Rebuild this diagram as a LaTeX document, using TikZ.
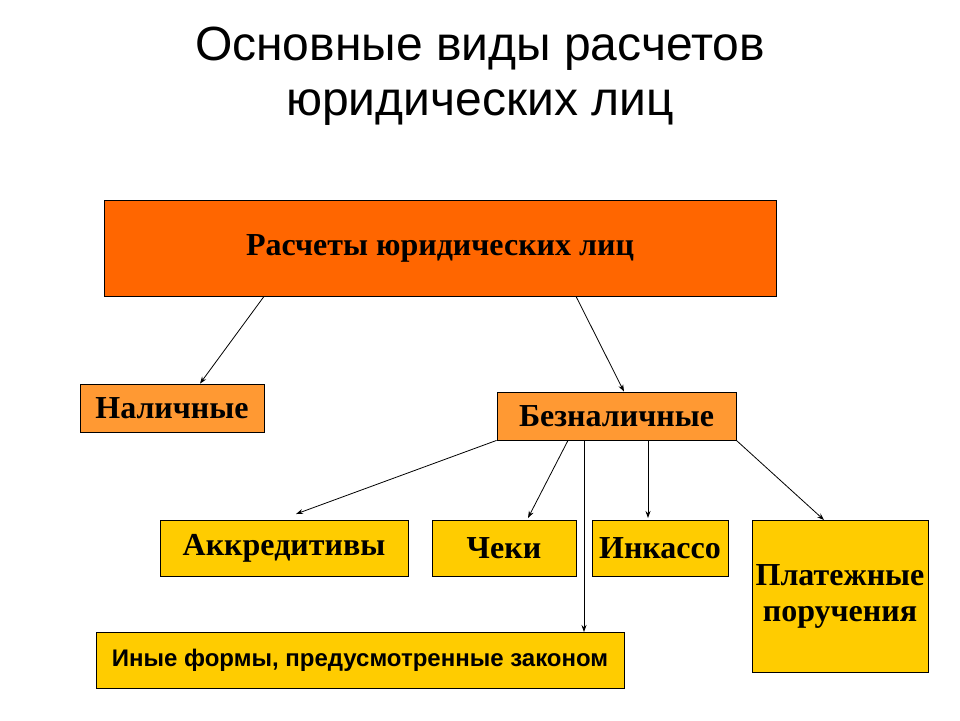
\documentclass[tikz,border=0pt]{standalone}
\usepackage{fontspec}
\setmainfont{Liberation Serif}
\setsansfont{Liberation Sans}
\usetikzlibrary{arrows.meta}
\definecolor{top}{HTML}{FF6600}
\definecolor{mid}{HTML}{FF9933}
\definecolor{low}{HTML}{FFCC00}
\begin{document}
\begin{tikzpicture}[x=1pt,y=-1pt,
  box/.style={draw=black,line width=0.8pt,font=\fontsize{32}{36}\selectfont\bfseries,align=center,inner sep=0pt},
  arr/.style={-{Stealth[length=7pt,width=5pt]},line width=0.8pt}]
\useasboundingbox (0,0) rectangle (960,720);
\node[font=\sffamily\fontsize{48}{55}\selectfont,align=center] (t) at (480,76) {Основные виды расчетов\\юридических лиц};
\node[box,fill=top,minimum width=672pt,minimum height=96pt] (r) at (440,248) {Расчеты юридических лиц};
\node[box,fill=mid,minimum width=184pt,minimum height=48pt] (n) at (172,408) {Наличные};
\node[box,fill=mid,minimum width=239pt,minimum height=48pt] (b) at (616.5,416) {Безналичные};
\node[box,fill=low,minimum width=248pt,minimum height=56pt] (a) at (284,548) {Аккредитивы};
\node[box,fill=low,minimum width=144pt,minimum height=56pt] (c) at (504,548) {Чеки};
\node[box,fill=low,minimum width=136pt,minimum height=56pt] (i) at (660,548) {Инкассо};
\node[box,fill=low,minimum width=176pt,minimum height=152pt] (p) at (840,596) {Платежные\\поручения};
\node[box,fill=low,minimum width=528pt,minimum height=56pt,font=\sffamily\fontsize{24}{26}\selectfont\bfseries] (o) at (360,660) {Иные формы, предусмотренные законом};
\draw[arr] ([xshift=-176pt]r.south) -- ([xshift=28pt]n.north);
\draw[arr] ([xshift=136pt]r.south) -- ([xshift=7.5pt]b.north);
\draw[arr] (b.south west) -- (296,514);
\draw[arr] ([xshift=-48.5pt]b.south) -- (528,518);
\draw[arr] ([xshift=-32.5pt]b.south) -- (584,632);
\draw[arr] ([xshift=31.5pt]b.south) -- (648,518);
\draw[arr] (b.south east) -- (824,520);
\end{tikzpicture}
\end{document}
